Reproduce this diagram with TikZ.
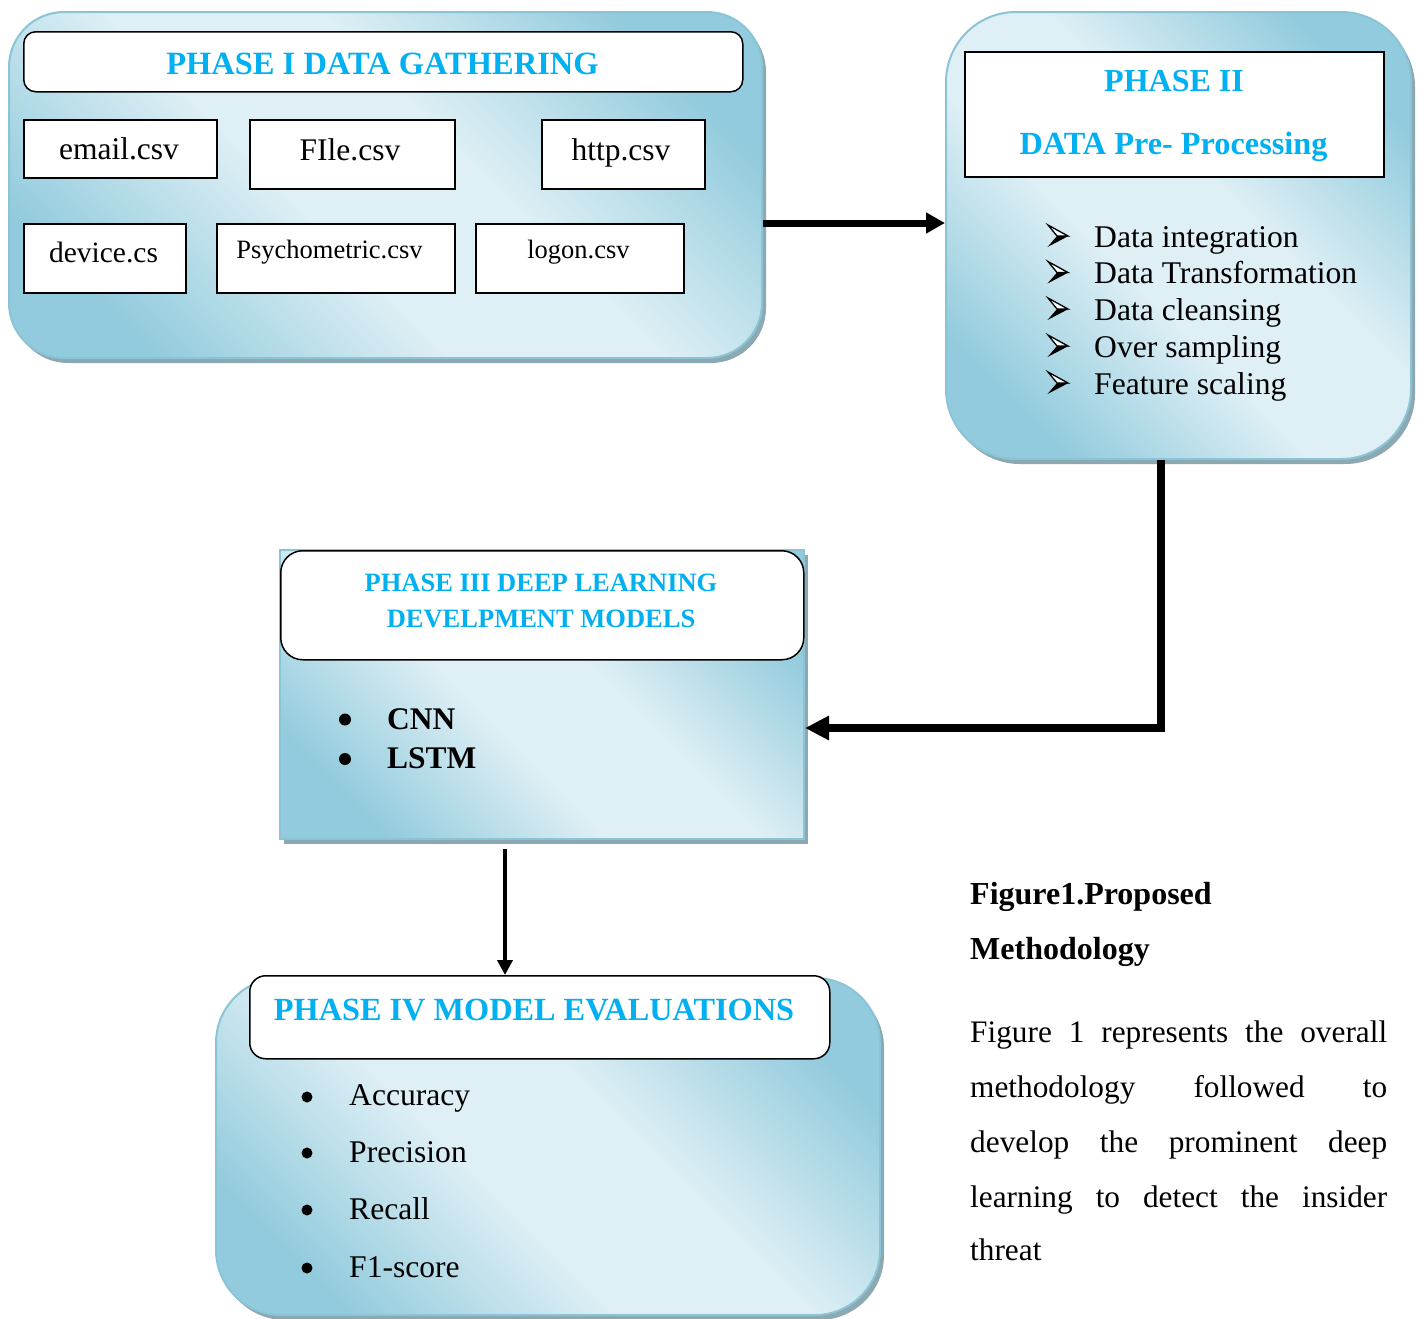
\documentclass[tikz,border=0pt]{standalone}
\usepackage{fontspec}
\setmainfont{Liberation Serif}
\usetikzlibrary{arrows.meta,shadows,calc}
\definecolor{phasec}{RGB}{0,176,240}
\definecolor{shdk}{RGB}{146,203,221}
\definecolor{shlt}{RGB}{222,239,245}
\definecolor{boxborder}{RGB}{138,196,214}
\definecolor{shadowc}{RGB}{140,168,176}
\pgfdeclarehorizontalshading{boxshade}{100bp}{color(0bp)=(shdk); color(24bp)=(shdk); color(43bp)=(shlt); color(57bp)=(shlt); color(76bp)=(shdk); color(100bp)=(shdk)}
\newcommand\myfs[1]{\fontsize{#1}{#1}\selectfont}
\begin{document}
\begin{tikzpicture}[x=1pt,y=-1pt,
  outerbox/.style={draw=boxborder, line width=2pt, shade, shading=boxshade, shading angle=45,
    drop shadow={shadow xshift=4pt, shadow yshift=-5pt, fill=shadowc, opacity=1},
    anchor=north west, inner sep=0pt},
  titlebox/.style={draw=black, fill=white, line width=1.5pt, anchor=north west, inner sep=0pt},
  filebox/.style={draw=black, fill=white, line width=2pt, anchor=north west, inner sep=0pt},
  phasetxt/.style={text=phasec, anchor=base, inner sep=0pt},
  plaintxt/.style={anchor=base, inner sep=0pt},
  itemtxt/.style={anchor=base west, inner sep=0pt},
  conn/.style={draw=black, line join=miter},
  arrbul/.pic={
    \filldraw[fill=white, line width=1.3pt, line join=miter] (-10,-11) -- (10,0) -- (-1,0) -- cycle;
    \fill (-1,0) -- (10.5,0) -- (-10.5,11) -- cycle;
  }
]
\useasboundingbox (0,0) rectangle (1418,1318);

% ---------- Phase I ----------
\node[outerbox, minimum width=753pt, minimum height=346pt, rounded corners=55pt] (p1) at (8,11) {};
\node[titlebox, minimum width=719pt, minimum height=60pt, rounded corners=12pt] (t1) at (23,31) {};
\node[phasetxt, font=\myfs{32.5}\bfseries] (t1txt) at (382.5,74) {PHASE I DATA GATHERING};

\node[filebox, minimum width=193pt, minimum height=58pt] (bemail) at (23,119) {};
\node[filebox, minimum width=205pt, minimum height=69pt] (bfile) at (249,119) {};
\node[filebox, minimum width=163pt, minimum height=69pt] (bhttp) at (541,119) {};
\node[filebox, minimum width=162pt, minimum height=69pt] (bdevice) at (23,223) {};
\node[filebox, minimum width=238pt, minimum height=69pt] (bpsych) at (216,223) {};
\node[filebox, minimum width=208pt, minimum height=69pt] (blogon) at (475,223) {};

\node[plaintxt, font=\myfs{31.5}] (temail) at (119,159) {email.csv};
\node[plaintxt, font=\myfs{31.5}] (tfile) at (350,160) {FIle.csv};
\node[plaintxt, font=\myfs{31.5}] (thttp) at (621,160) {http.csv};
\node[plaintxt, font=\myfs{29.5}] (tdevice) at (103.5,262) {device.cs};
\node[plaintxt, font=\myfs{26.5}] (tpsych) at (329.5,258) {Psychometric.csv};
\node[plaintxt, font=\myfs{26.5}] (tlogon) at (578.5,258) {logon.csv};

% ---------- Phase II ----------
\node[outerbox, minimum width=465pt, minimum height=447pt, rounded corners=70pt] (p2) at (945,11) {};
\node[titlebox, minimum width=419pt, minimum height=125pt] (t2) at (964,51) {};
\node[phasetxt, font=\myfs{32}\bfseries] (t2a) at (1174,91) {PHASE II};
\node[phasetxt, font=\myfs{32.3}\bfseries] (t2b) at (1173.5,154) {DATA Pre- Processing};

\pic at (1058,236) {arrbul};
\pic at (1058,272.5) {arrbul};
\pic at (1058,309) {arrbul};
\pic at (1058,346) {arrbul};
\pic at (1058,383) {arrbul};
\node[itemtxt, font=\myfs{31.6}] (l1) at (1094,247) {Data integration};
\node[itemtxt, font=\myfs{31.6}] (l2) at (1094,283.5) {Data Transformation};
\node[itemtxt, font=\myfs{31.6}] (l3) at (1094,320) {Data cleansing};
\node[itemtxt, font=\myfs{31.6}] (l4) at (1094,357) {Over sampling};
\node[itemtxt, font=\myfs{31.6}] (l5) at (1094,394) {Feature scaling};

% ---------- Phase III ----------
\node[outerbox, minimum width=524pt, minimum height=289pt] (p3) at (279,549) {};
\node[titlebox, minimum width=523pt, minimum height=109pt, rounded corners=22pt] (t3) at (280,550) {};
\node[phasetxt, font=\myfs{26.5}\bfseries] (t3a) at (541,591) {PHASE III DEEP LEARNING};
\node[phasetxt, font=\myfs{26.5}\bfseries] (t3b) at (541,627) {DEVELPMENT MODELS};
\fill (345,719.5) circle[radius=6pt];
\fill (345,759) circle[radius=6pt];
\node[itemtxt, font=\myfs{31.5}\bfseries] (m1) at (387,729) {CNN};
\node[itemtxt, font=\myfs{31.5}\bfseries] (m2) at (387,768) {LSTM};

% ---------- Phase IV ----------
\node[outerbox, minimum width=664pt, minimum height=337pt, rounded corners=65pt] (p4) at (215,977) {};
\node[titlebox, minimum width=580pt, minimum height=83pt, rounded corners=16pt] (t4) at (249,975) {};
\node[phasetxt, font=\myfs{32.3}\bfseries] (t4a) at (534,1020) {PHASE IV MODEL EVALUATIONS};
\fill (307,1097) circle[radius=5.5pt];
\fill (307,1153) circle[radius=5.5pt];
\fill (307,1210) circle[radius=5.5pt];
\fill (307,1268) circle[radius=5.5pt];
\node[itemtxt, font=\myfs{31.6}] (e1) at (349,1105) {Accuracy};
\node[itemtxt, font=\myfs{31.6}] (e2) at (349,1162) {Precision};
\node[itemtxt, font=\myfs{31.6}] (e3) at (349,1219) {Recall};
\node[itemtxt, font=\myfs{31.6}] (e4) at (349,1277) {F1-score};

% ---------- Connectors ----------
\coordinate (a1) at (0,223);
\draw[conn, line width=7pt, -{Triangle[length=19pt,width=20pt]}] (a1 -| p1.east) -- (a1 -| p2.west);
\coordinate (a2) at (1161,728);
\draw[conn, line width=7.5pt, -{Triangle[length=24pt,width=23pt]}] (a2 |- p2.south) -- (a2) -- (a2 -| p3.east);
\coordinate (a3) at (505,0);
\draw[conn, line width=4pt, -{Triangle[length=15pt,width=15pt]}] ($(a3 |- p3.south)+(0,9)$) -- (a3 |- t4.north);

% ---------- Caption ----------
\node[itemtxt, font=\myfs{32}\bfseries] (c1) at (970,904) {Figure1.Proposed};
\node[itemtxt, font=\myfs{32}\bfseries] (c2) at (970,959) {Methodology};
\node[itemtxt, font=\myfs{31.3}] (d1) at (970,1042) {\makebox[417pt][s]{Figure 1 represents the overall}};
\node[itemtxt, font=\myfs{31.3}] (d2) at (970,1097) {\makebox[417pt][s]{methodology followed to}};
\node[itemtxt, font=\myfs{31.3}] (d3) at (970,1152) {\makebox[417pt][s]{develop the prominent deep}};
\node[itemtxt, font=\myfs{31.3}] (d4) at (970,1207) {\makebox[417pt][s]{learning to detect the insider}};
\node[itemtxt, font=\myfs{31.3}] (d5) at (970,1260) {threat};
\end{tikzpicture}
\end{document}
